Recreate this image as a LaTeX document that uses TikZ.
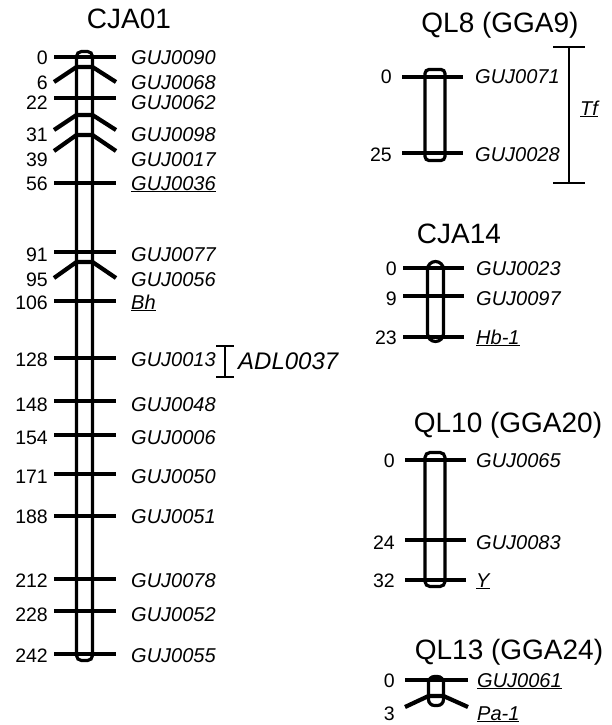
\documentclass[tikz,border=0pt]{standalone}
\usepackage{fontspec}
\setmainfont{Liberation Sans}
\usepackage{tikz}
\tikzset{
  chrom/.style={
    draw=black,
    line width=3.2pt,
    rounded corners=5pt
  },
  markbar/.style={line width=4.2pt},
  spanbar/.style={line width=1.3pt},
  num/.style={anchor=base east, inner sep=0pt, font=\fontsize{19.5}{22}\selectfont},
  lab/.style={anchor=base west, inner sep=0pt, font=\fontsize{20}{24}\selectfont\itshape},
  chromtitle/.style={anchor=base, inner sep=0pt, font=\fontsize{28}{32}\selectfont}
}

\begin{document}
\begin{tikzpicture}[x=1pt, y=-1pt]
\useasboundingbox (0,0) rectangle (611,725);

% CJA01
\node[chromtitle] (cja01) at (129,29) {CJA01};
\foreach \yi/\yo/\yt/\n/\l [count=\k] in {
  57/57/58/0/GUJ0090, 67/82/82/6/GUJ0068, 98/98/102/22/GUJ0062,
  115/130/134/31/GUJ0098, 135/151/159/39/GUJ0017,
  183/183/183/56/\underline{GUJ0036}, 252/252/254/91/GUJ0077,
  262/278/279/95/GUJ0056, 301/301/302/106/\underline{Bh},
  358/358/359/128/GUJ0013, 401/401/404/148/GUJ0048,
  435/435/437/154/GUJ0006, 474/474/476/171/GUJ0050,
  516/516/516/188/GUJ0051, 579/579/580/212/GUJ0078,
  611/611/614/228/GUJ0052, 654/654/655/242/GUJ0055} {
  \draw[markbar] (54,\yo) -- (76.5,\yi) -- (92.5,\yi) -- (116,\yo);
  \node[num] (a-n\k) at (48,\yt+7) {\n};
  \node[lab] (a-l\k) at (131,\yt+7) {\l};
}
\draw[chrom] (76.5,51.5) rectangle (92.5,660.5);
% interval next to GUJ0013
\coordinate (adl-top) at (225,346);
\coordinate (adl-bot) at (225,377);
\draw[spanbar] (adl-top) -- (adl-bot);
\draw[spanbar] ([xshift=-9pt]adl-top) -- ([xshift=9pt]adl-top);
\draw[spanbar] ([xshift=-9pt]adl-bot) -- ([xshift=9pt]adl-bot);
\node[lab, font=\fontsize{24}{28}\selectfont\itshape] (adl) at (238,369.5) {ADL0037};

% QL8 (GGA9)
\node[chromtitle] (ql8) at (500,33) {QL8 (GGA9)};
\foreach \yi/\yt/\n/\l [count=\k] in {77/77/0/GUJ0071, 153/154/25/GUJ0028} {
  \draw[markbar] (402,\yi) -- (463,\yi);
  \node[num] (b-n\k) at (392,\yt+7) {\n};
  \node[lab] (b-l\k) at (475,\yt+7) {\l};
}
\draw[chrom, rounded corners=4pt] (425,69.5) rectangle (445,160.5);
\coordinate (tf-top) at (569,47);
\coordinate (tf-bot) at (569,183);
\draw[spanbar] (tf-top) -- (tf-bot);
\draw[spanbar] ([xshift=-16pt]tf-top) -- ([xshift=16pt]tf-top);
\draw[spanbar] ([xshift=-16pt]tf-bot) -- ([xshift=16pt]tf-bot);
\node[lab] (tf) at (580,115) {\underline{Tf}};

% CJA14
\node[chromtitle] (cja14) at (459,243) {CJA14};
\foreach \yi/\yt/\n/\l [count=\k] in {268/268/0/GUJ0023, 296/298/9/GUJ0097,
  337/337/23/\underline{Hb-1}} {
  \draw[markbar] (403,\yi) -- (464,\yi);
  \node[num] (c-n\k) at (397,\yt+7) {\n};
  \node[lab] (c-l\k) at (476,\yt+7) {\l};
}
\draw[chrom, rounded corners=8pt] (427.5,261.5) rectangle (443.5,341.5);

% QL10 (GGA20)
\node[chromtitle] (ql10) at (508,432) {QL10 (GGA20)};
\foreach \yi/\yt/\n/\l [count=\k] in {460/460/0/GUJ0065, 540/542/24/GUJ0083,
  580/580/32/\underline{Y}} {
  \draw[markbar] (405,\yi) -- (466,\yi);
  \node[num] (d-n\k) at (395,\yt+7) {\n};
  \node[lab] (d-l\k) at (476,\yt+7) {\l};
}
\draw[chrom] (425,452.5) rectangle (445,586.5);

% QL13 (GGA24)
\node[chromtitle] (ql13) at (509,659) {QL13 (GGA24)};
\foreach \yi/\yo/\yt/\n/\l [count=\k] in {680/680/680/0/\underline{GUJ0061},
  696/707/713/3/\underline{Pa-1}} {
  \draw[markbar] (405,\yo) -- (428.5,\yi) -- (443.5,\yi) -- (468,\yo);
  \node[num] (e-n\k) at (395,\yt+7) {\n};
  \node[lab] (e-l\k) at (477,\yt+7) {\l};
}
\draw[chrom, rounded corners=6pt] (428.5,676.5) rectangle (443.5,705.5);
\end{tikzpicture}
\end{document}
